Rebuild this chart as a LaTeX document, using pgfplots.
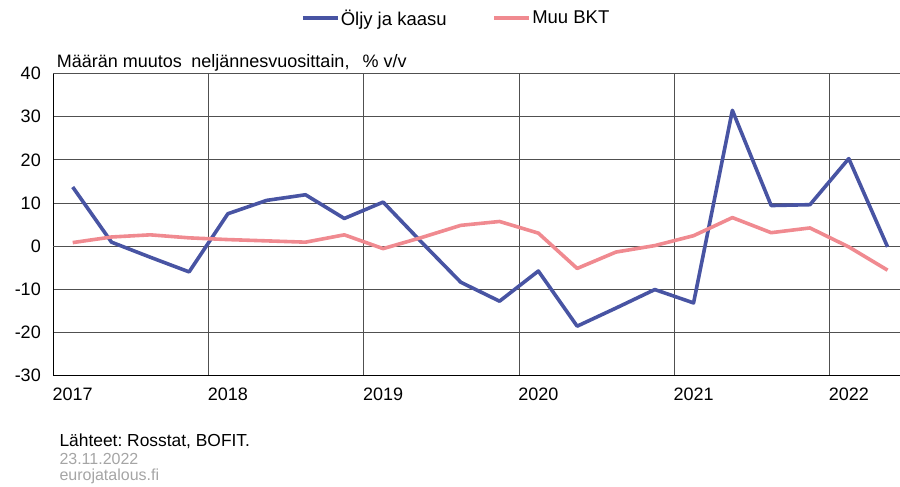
\documentclass[border=0pt]{standalone}
\usepackage{pgfplots}
\pgfplotsset{compat=1.18}
\usepackage{fontspec}
\setmainfont{Liberation Sans}
\definecolor{oil}{RGB}{72,84,163}
\definecolor{gdp}{RGB}{240,138,144}
\definecolor{gridc}{RGB}{80,80,80}
\definecolor{foot}{RGB}{165,165,165}
\frenchspacing
\begin{document}
\begin{tikzpicture}
\useasboundingbox (0,0) rectangle (900pt,487pt);
\begin{axis}[
 name=ax,
 at={(53.3pt,111.7pt)}, anchor=south west,
 scale only axis, width=846.7pt, height=301.6pt,
 xmin=-0.5, xmax=21.32, ymin=-30, ymax=40,
 axis lines*=left,
 axis line style={black, line width=0.9pt},
 ytick={-30,-20,...,40},
 ymajorgrids, major grid style={gridc, line width=0.8pt},
 extra y ticks={0}, extra y tick labels={},
 extra y tick style={grid style={black, line width=1.4pt}},
 xtick={0,4,8,12,16,20}, xticklabels={2017,2018,2019,2020,2021,2022},
 minor xtick={3.5,7.5,11.5,15.5,19.5}, xminorgrids,
 minor grid style={gridc, line width=0.8pt},
 major tick length=0pt, minor tick length=0pt,
 tick label style={font=\fontsize{18}{20}\selectfont},
 /pgf/number format/assume math mode=true,
 yticklabel style={xshift=-9pt},
 xticklabel style={yshift=-9pt},
 legend style={at={(axis description cs:0.2925,1.1837)}, anchor=west, draw=none, fill=none,
   legend columns=2, font=\fontsize{18.5}{20}\selectfont, inner xsep=0pt, inner ysep=0pt,
   nodes={inner xsep=1pt},
   /tikz/every even column/.append style={column sep=45pt}},
 legend image code/.code={\draw[#1] (0pt,0pt) -- (35pt,0pt);},
]
\addplot[oil, line width=3.6pt, line join=round] coordinates {
(0,13.7) (1,0.9) (2,-2.6) (3,-6.0) (4,7.5) (5,10.6) (6,11.9) (7,6.4) (8,10.2) (9,0.8) (10,-8.4)
(11,-12.8) (12,-5.8) (13,-18.6) (14,-14.4) (15,-10.1) (16,-13.2) (17,31.5) (18,9.4) (19,9.6) (20,20.3) (21,-0.2)};
\addlegendentry{Öljy ja kaasu}
\addplot[gdp, line width=3.6pt, line join=round] coordinates {
(0,0.8) (1,2.1) (2,2.6) (3,1.9) (4,1.5) (5,1.2) (6,0.9) (7,2.6) (8,-0.6) (9,2.0) (10,4.8)
(11,5.7) (12,3.0) (13,-5.2) (14,-1.4) (15,0.1) (16,2.4) (17,6.6) (18,3.1) (19,4.2) (20,-0.2) (21,-5.6)};
\addlegendentry{Muu BKT}
\end{axis}
\node[anchor=base west, inner sep=0pt, font=\fontsize{18}{20}\selectfont] at (56.7pt,419.3pt) {Määrän muutos\hspace{0.25em} neljännesvuosittain,\hspace{0.45em} \% v/v};
\node[anchor=base west, inner sep=0pt, font=\fontsize{17.4}{20}\selectfont] at (59.3pt,40.3pt) {Lähteet: Rosstat, BOFIT.};
\node[anchor=base west, inner sep=0pt, font=\fontsize{16}{20}\selectfont, text=foot] at (59.3pt,22pt) {23.11.2022};
\node[anchor=base west, inner sep=0pt, font=\fontsize{16}{20}\selectfont, text=foot] at (59.3pt,6.3pt) {eurojatalous.fi};
\end{tikzpicture}
\end{document}
